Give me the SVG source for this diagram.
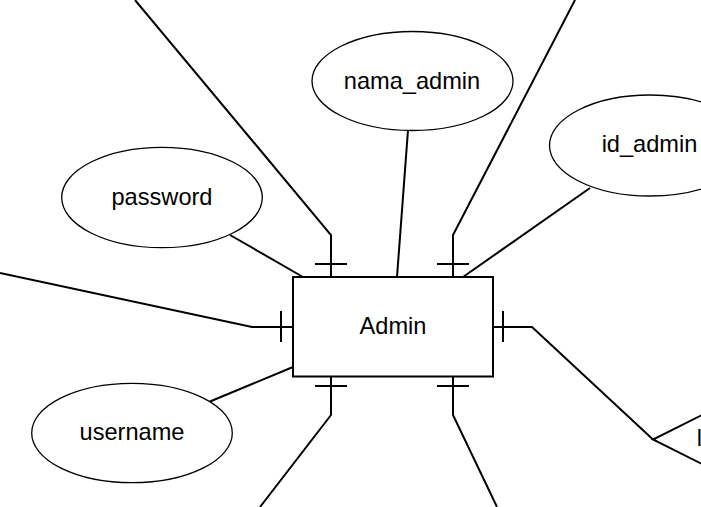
<svg xmlns="http://www.w3.org/2000/svg" width="701" height="507" viewBox="0 0 701 507">
<style>
.bg{fill:#ffffff}
.attr{fill:#ffffff;stroke:#000000;stroke-width:1.3}
.ent{fill:#ffffff;stroke:#000000;stroke-width:2}
.ln{fill:none;stroke:#000000;stroke-width:2}
.t{font-family:"Liberation Sans",Arial,sans-serif;font-size:23.6px;fill:#000000;text-anchor:middle}
</style>
<rect class="bg" x="0" y="0" width="701" height="507"/>
<g id="connectors">
  <path class="ln" d="M135,0 L331,235 L331,277"/>
  <path class="ln" d="M315,264 L347,264"/>
  <path class="ln" d="M575,0 L453,235 L453,277"/>
  <path class="ln" d="M437,264 L469,264"/>
  <path class="ln" d="M260,507 L331,415 L331,377"/>
  <path class="ln" d="M315,386 L347,386"/>
  <path class="ln" d="M497,507 L453,415 L453,377"/>
  <path class="ln" d="M437,386 L469,386"/>
  <path class="ln" d="M0,273 L252,327 L293,327"/>
  <path class="ln" d="M281,311 L281,342"/>
  <path class="ln" d="M493,327 L532,327 L653,439.5"/>
  <path class="ln" d="M503,311 L503,342"/>
  <path class="ln" d="M408,130 L397,277"/>
  <path class="ln" d="M230,235 L303,277"/>
  <path class="ln" d="M590,188 L463,277"/>
  <path class="ln" d="M210,401.5 L293,367"/>
</g>
<g id="admin">
  <rect class="ent" x="293" y="277" width="200" height="99.5"/>
  <text class="t" x="393" y="333.5">Admin</text>
</g>
<g id="nama_admin">
  <ellipse class="attr" cx="412.5" cy="81" rx="100.5" ry="49.5"/>
  <text class="t" x="412" y="88.5">nama_admin</text>
</g>
<g id="password">
  <ellipse class="attr" cx="162" cy="197.5" rx="100.3" ry="50.2"/>
  <text class="t" x="162" y="204.5">password</text>
</g>
<g id="id_admin">
  <ellipse class="attr" cx="650" cy="145.5" rx="100.5" ry="50.5"/>
  <text class="t" x="649.5" y="152">id_admin</text>
</g>
<g id="username">
  <ellipse class="attr" cx="132" cy="433" rx="100.3" ry="49.7"/>
  <text class="t" x="132" y="440">username</text>
</g>
<g id="relation">
  <path class="ent" d="M713,409.5 L653,439.5 L713,469.5"/>
  <text class="t" x="696.8" y="446" style="text-anchor:start">l</text>
</g>
</svg>
